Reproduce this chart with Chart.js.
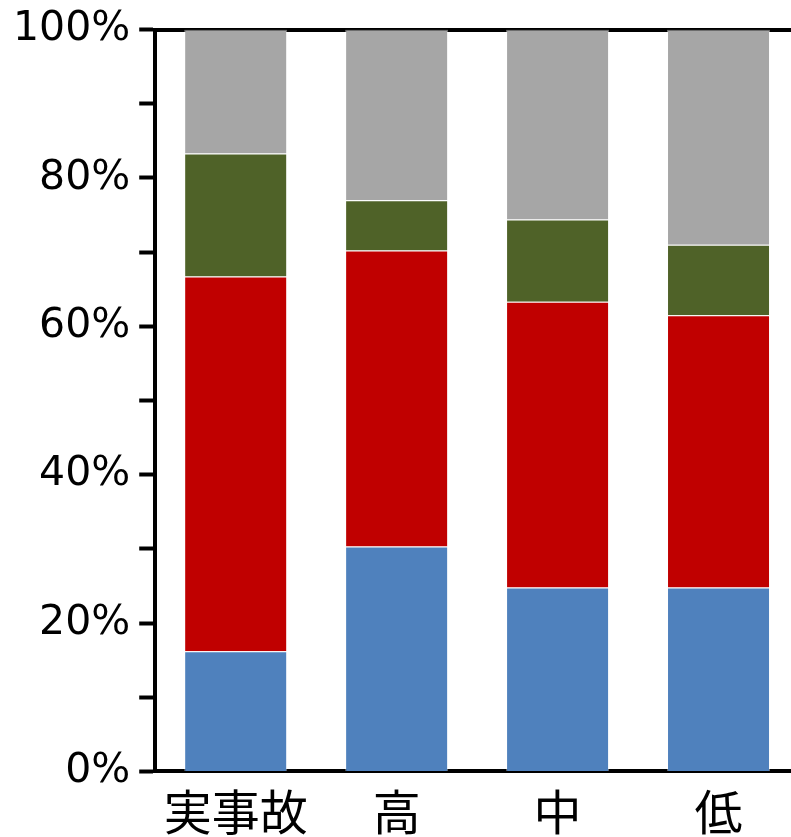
<!DOCTYPE html>
<html lang="ja">
<head>
    <meta charset="UTF-8">
    <title>stacked 100%</title>
    <script src="https://cdn.jsdelivr.net/npm/chart.js"></script>
    <style>
        html, body { margin: 0; padding: 0; background: #fff; overflow: hidden; }
        #wrap { width: 800px; height: 837px; }
    </style>
</head>
<body>
    <div id="wrap"><canvas id="chart"></canvas></div>

    <script>
        // categories and series (%)
        const categories = ['実事故', '高', '中', '低'];
        const blueVals  = [16.2, 30.3, 24.8, 24.8];
        const redVals   = [50.5, 39.9, 38.5, 36.7];
        const greenVals = [16.6, 6.8, 11.1, 9.5];
        const grayVals  = [16.7, 23.0, 25.6, 29.0];

        const yTickLabels = ['0%', '20%', '40%', '60%', '80%', '100%'];

        const edge = 'rgba(255,255,255,0.4)';
        function series(data, color) {
            return {
                data: data,
                backgroundColor: color,
                borderColor: edge,
                borderWidth: 1,
                barPercentage: 0.64,
                categoryPercentage: 1.0
            };
        }

        new Chart(document.getElementById('chart'), {
            type: 'bar',
            data: {
                labels: categories,
                datasets: [
                    series(blueVals, '#4F81BD'),
                    series(redVals, '#C00000'),
                    series(greenVals, '#4F6228'),
                    series(grayVals, '#A6A6A6')
                ]
            },
            options: {
                responsive: true,
                maintainAspectRatio: false,
                animation: false,
                layout: { padding: { top: 8, left: 4, right: 1, bottom: -16 } },
                plugins: { legend: { display: false }, tooltip: { enabled: false } },
                scales: {
                    x: {
                        stacked: true,
                        grid: { display: false, drawTicks: false },
                        border: { display: true, color: '#000', width: 4 },
                        ticks: {
                            color: '#000',
                            padding: 12,
                            font: { family: '"Noto Sans CJK JP", sans-serif', size: 48 }
                        }
                    },
                    xTop: {
                        type: 'category',
                        labels: categories,
                        position: 'top',
                        grid: { display: false, drawTicks: false },
                        border: { display: true, color: '#000', width: 4 },
                        ticks: { display: false }
                    },
                    y: {
                        stacked: true,
                        min: 0,
                        max: 100,
                        grid: {
                            drawOnChartArea: false,
                            drawTicks: true,
                            tickLength: 16,
                            tickWidth: 4,
                            tickColor: '#000'
                        },
                        border: { display: true, color: '#000', width: 4 },
                        ticks: {
                            stepSize: 10,
                            autoSkip: false,
                            color: '#000',
                            padding: 9,
                            font: { family: '"DejaVu Sans", sans-serif', size: 41, lineHeight: 1 },
                            callback: function (v) {
                                return v % 20 === 0 ? yTickLabels[v / 20] : '';
                            }
                        }
                    }
                }
            }
        });
    </script>
</body>
</html>
